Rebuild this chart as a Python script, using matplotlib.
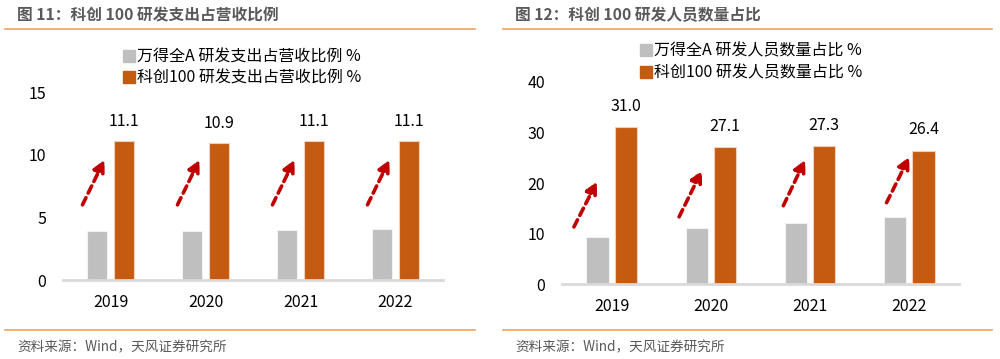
import numpy as np
import matplotlib
matplotlib.use("Agg")
import matplotlib.pyplot as plt
from matplotlib.lines import Line2D

plt.rcParams['font.family'] = ['Noto Sans CJK SC', 'DejaVu Sans']

YEARS = ["2019", "2020", "2021", "2022"]

# figure 11: R&D spend / revenue (%)
RD_SPEND_ALLA = [3.9, 3.93, 4.0, 4.1]
RD_SPEND_KC100 = [11.1, 10.9, 11.1, 11.1]
# figure 12: R&D staff share (%)
RD_STAFF_ALLA = [9.4, 11.1, 12.1, 13.2]
RD_STAFF_KC100 = [31.0, 27.1, 27.3, 26.4]

CLR_GRAY = "#BFBFBF"
CLR_ORANGE = "#C55A11"
CLR_ARROW = "#C00000"
CLR_RULE = "#F4A15D"
CLR_TITLE = "#595959"

fig = plt.figure(figsize=(10, 3.59), dpi=100)


def panel(rect, alla, kc, ylim, yticks, bw, off, arrows, lab_off):
    ax = fig.add_axes(rect)
    x = np.arange(len(YEARS))
    ax.bar(x - off, alla, width=bw, color=CLR_GRAY, edgecolor="#F2F2F2", linewidth=0.8)
    ax.bar(x + off, kc, width=bw, color=CLR_ORANGE, edgecolor="#F2D0BC", linewidth=0.8)
    for xi, v in zip(x, kc):
        ax.annotate(f"{v:.1f}", (xi + off, v), xytext=(0, lab_off), textcoords="offset points",
                    ha="center", va="bottom", fontsize=11.5)
    # dashed red arrows between the two bars
    for xi, (x0, y0, x1, y1) in zip(x, arrows):
        ax.annotate("", xy=(xi + x1, y1), xytext=(xi + x0, y0),
                    arrowprops=dict(arrowstyle="-|>", color=CLR_ARROW, lw=2.6,
                                    linestyle=(0, (2.2, 1.4)), mutation_scale=17,
                                    shrinkA=0, shrinkB=0))
    ax.set_xlim(-0.5, len(YEARS) - 0.5)
    ax.set_ylim(*ylim)
    ax.set_xticks(x)
    ax.set_xticklabels(YEARS, fontsize=11.5)
    ax.set_yticks(yticks)
    ax.tick_params(axis="both", length=0, labelsize=11.5)
    ax.tick_params(axis="y", pad=12)
    ax.tick_params(axis="x", pad=10)
    for s in ["left", "right", "top"]:
        ax.spines[s].set_visible(False)
    ax.spines["bottom"].set_color("#D9D9D9")
    ax.spines["bottom"].set_linewidth(2)
    return ax


ax1 = panel([0.063, 0.22, 0.38, 0.5237], RD_SPEND_ALLA, RD_SPEND_KC100,
            (0, 15), [0, 5, 10, 15], 0.22, 0.142,
            [(-0.295, 6.0, -0.063, 9.6)] * 4, 8)
ax2 = panel([0.562, 0.2089, 0.397, 0.5627], RD_STAFF_ALLA, RD_STAFF_KC100,
            (0, 40), [0, 10, 20, 30, 40], 0.225, 0.142,
            [(-0.38, 11.3, -0.147, 20.3), (-0.32, 13.3, -0.09, 22.5),
             (-0.27, 15.5, -0.05, 24.6), (-0.23, 16.1, 0.0, 25.2)], 9)

# legends
for ax, (lx, ly), labels in [
        (ax1, (0.123, 0.866), ["万得全A 研发支出占营收比例 %", "科创100 研发支出占营收比例 %"]),
        (ax2, (0.640, 0.881), ["万得全A 研发人员数量占比 %", "科创100 研发人员数量占比 %"])]:
    handles = [Line2D([], [], marker="s", linestyle="none", markersize=8, color=c)
               for c in (CLR_GRAY, CLR_ORANGE)]
    ax.legend(handles, labels, loc="upper left", bbox_to_anchor=(lx, ly),
              bbox_transform=fig.transFigure, frameon=False, fontsize=11.5,
              handlelength=0.7, handletextpad=0.2, labelspacing=0.3,
              borderpad=0, borderaxespad=0)

# titles, rules, sources
W, H = 1000, 359
for x0, x1, title in [(5, 475, "图 11：科创 100 研发支出占营收比例"),
                      (503, 992, "图 12：科创 100 研发人员数量占比")]:
    fig.text((x0 + 12) / W, 1 - 15 / H, title, fontsize=11.3, fontweight="bold",
             color=CLR_TITLE, va="center", ha="left")
    fig.add_artist(Line2D([x0 / W, x1 / W], [1 - 29 / H] * 2, color=CLR_RULE, lw=1.2))
    fig.add_artist(Line2D([x0 / W, x1 / W], [1 - 330 / H] * 2, color=CLR_RULE, lw=1.2))
    fig.text((x0 + 12) / W, 1 - 347 / H, "资料来源：Wind，天风证券研究所", fontsize=9.8,
             color=CLR_TITLE, va="center", ha="left")

fig.savefig("out.png", dpi=100)
